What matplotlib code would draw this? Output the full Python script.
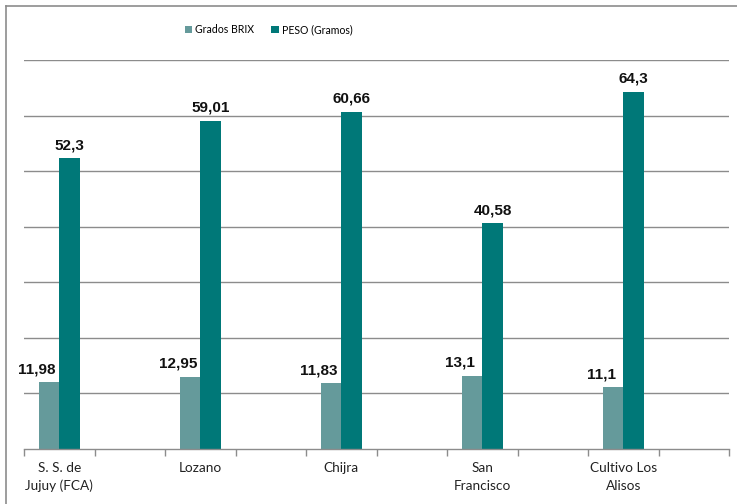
import matplotlib
matplotlib.use("Agg")
import matplotlib.pyplot as plt
import numpy as np
from matplotlib.lines import Line2D
from matplotlib.patches import Patch

categories = ["S. S. de\nJujuy (FCA)", "Lozano", "Chijra", "San\nFrancisco", "Cultivo Los\nAlisos"]
brix = [11.98, 12.95, 11.83, 13.1, 11.1]
peso = [52.3, 59.01, 60.66, 40.58, 64.3]
brix_labels = ["11,98", "12,95", "11,83", "13,1", "11,1"]
peso_labels = ["52,3", "59,01", "60,66", "40,58", "64,3"]
series_names = ["Grados BRIX", "PESO (Gramos)"]

c_brix = "#659A9B"
c_peso = "#007878"
grid_c = "#8C8C8C"

W, H = 737, 504
fig = plt.figure(figsize=(W / 100, H / 100), dpi=100)
ax = fig.add_axes([24 / W, 1 - 449 / H, (729 - 24) / W, (449 - 60) / H])

# categories occupy every other slot (blank slots between)
x = np.arange(len(categories)) * 2
bw = 0.29
b1 = ax.bar(x - bw / 2, brix, bw, color=c_brix, zorder=3)
b2 = ax.bar(x + bw / 2, peso, bw, color=c_peso, zorder=3)

ax.set_xlim(-0.5, 2 * len(categories) - 0.5)
ax.set_ylim(0, 70)
ax.set_yticks(np.arange(10, 71, 10))
ax.yaxis.grid(True, color=grid_c, linewidth=1.0)
ax.tick_params(axis="y", left=False, labelleft=False)
for s in ["left", "right", "top"]:
    ax.spines[s].set_visible(False)
ax.spines["bottom"].set_color(grid_c)
ax.spines["bottom"].set_linewidth(1.0)
ax.spines["bottom"].set_zorder(4)

ax.set_xticks(x)
ax.set_xticklabels(categories, fontsize=9.8, family="Lato", color="#222222", linespacing=1.6)
ax.tick_params(axis="x", which="major", length=0, pad=9)
ax.set_xticks(np.arange(-0.5, 2 * len(categories)), minor=True)
ax.tick_params(axis="x", which="minor", length=5, color=grid_c, width=1.0, direction="out")

for bar, lab in zip(b1, brix_labels):
    ax.annotate(lab, (bar.get_x() + bar.get_width() / 2, bar.get_height()),
                xytext=(-8.5, 4.5), textcoords="offset points", ha="center", va="bottom",
                fontsize=11, fontweight="bold", family="Liberation Sans", color="#111111")
for bar, lab in zip(b2, peso_labels):
    ax.annotate(lab, (bar.get_x() + bar.get_width() / 2, bar.get_height()),
                xytext=(0, 4.5), textcoords="offset points", ha="center", va="bottom",
                fontsize=11, fontweight="bold", family="Liberation Sans", color="#111111")

handles = [Patch(facecolor=c_brix), Patch(facecolor=c_peso)]
fig.legend(handles, series_names, loc="center", bbox_to_anchor=(268.5 / W, 1 - 29.5 / H),
           ncol=2, frameon=False, prop={"family": "Lato", "size": 7.6},
           handlelength=0.7, handleheight=0.7, handletextpad=0.3, columnspacing=1.6)

# outer chart frame (top and left edges)
fig.add_artist(Line2D([5.5 / W, 5.5 / W], [0, 1 - 6 / H], transform=fig.transFigure,
                      color="#8C8C8C", linewidth=1.2))
fig.add_artist(Line2D([5.5 / W, 1], [1 - 6 / H, 1 - 6 / H], transform=fig.transFigure,
                      color="#8C8C8C", linewidth=1.2))

fig.savefig("out.png", dpi=100)
